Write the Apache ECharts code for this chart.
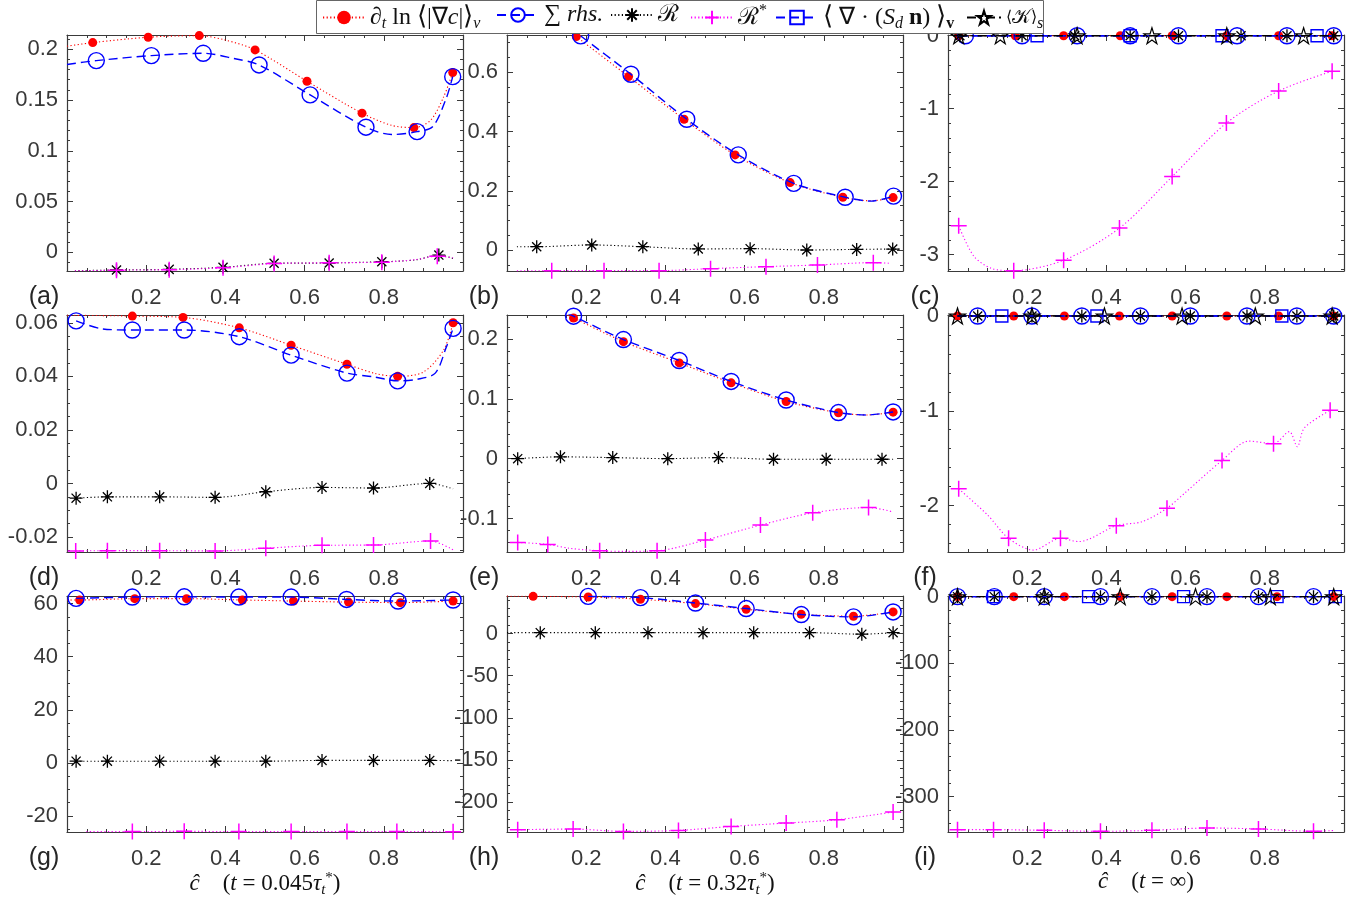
<!DOCTYPE html>
<html><head><meta charset="utf-8">
<script src="https://cdn.jsdelivr.net/npm/echarts@6/dist/echarts.min.js"></script>
<style>html,body{margin:0;padding:0;background:#fff}#c{width:1363px;height:904px}</style>
</head><body><div id="c"></div>
<script>
// ---------------- DATA: [c-hat, value, marker?] ----------------
// panel (a)  t = 0.045 tau
const a_dlog = [[0,0.203,0],[0.065,0.2065,1],[0.205,0.2118,1],[0.334,0.2134,1],[0.40,0.209,0],[0.475,0.1993,1],[0.606,0.1685,1],[0.745,0.137,1],[0.82,0.125,0],[0.876,0.1228,1],[0.918,0.130,0],[0.951,0.153,0],[0.974,0.177,1]];
const a_rhs  = [[0,0.185,0],[0.074,0.1888,1],[0.213,0.1937,1],[0.344,0.196,1],[0.42,0.191,0],[0.485,0.1845,1],[0.614,0.155,1],[0.755,0.1232,1],[0.82,0.116,0],[0.884,0.1188,1],[0.924,0.124,0],[0.958,0.152,0],[0.974,0.173,1]];
const a_R    = [[0.02,-0.0182,0],[0.125,-0.0174,1],[0.258,-0.0168,1],[0.394,-0.0148,1],[0.523,-0.0108,1],[0.662,-0.0105,1],[0.795,-0.0093,1],[0.88,-0.0075,0],[0.939,-0.0027,1],[0.975,-0.006,0]];
const a_Rs   = [[0.02,-0.0183,0],[0.125,-0.0176,1],[0.258,-0.0171,1],[0.394,-0.0152,1],[0.523,-0.0111,1],[0.662,-0.0103,1],[0.795,-0.0097,1],[0.88,-0.0072,0],[0.935,-0.0038,1],[0.975,-0.0055,0]];
// panel (b)  t = 0.32 tau
const b_dlog = [[0.13,0.766,0],[0.175,0.7206,1],[0.307,0.5856,1],[0.447,0.4414,1],[0.576,0.321,1],[0.715,0.2275,1],[0.848,0.178,1],[0.92,0.166,0],[0.975,0.1768,1]];
const b_rhs  = [[0.13,0.78,0],[0.186,0.723,1],[0.313,0.5934,1],[0.454,0.4414,1],[0.584,0.321,1],[0.724,0.225,1],[0.854,0.178,1],[0.92,0.165,0],[0.976,0.182,1]];
const b_R    = [[0.025,0.011,0],[0.075,0.011,1],[0.214,0.0169,1],[0.343,0.011,1],[0.483,0.0034,1],[0.614,0.0045,1],[0.757,0,1],[0.883,0.002,1],[0.974,0.003,1],[0.995,0.003,0]];
const b_Rs   = [[0.025,-0.0705,0],[0.113,-0.0698,1],[0.245,-0.0698,1],[0.384,-0.0698,1],[0.514,-0.063,1],[0.654,-0.0563,1],[0.784,-0.0507,1],[0.925,-0.0428,1],[0.97,-0.045,0]];
// panel (c)  t = inf
const c_dlog = [[0.027,0,1],[0.17,0,1],[0.292,0,1],[0.435,0,1],[0.566,0,1],[0.704,0,1],[0.835,0,1],[0.97,0,1]];
const c_rhs  = [[0.027,0,0],[0.044,0,1],[0.187,0,1],[0.326,0,1],[0.46,0,1],[0.582,0,1],[0.73,0,1],[0.856,0,1],[0.974,0,1]];
const c_R    = [[0.03,0,1],[0.187,0,1],[0.32,0,1],[0.46,0,1],[0.582,0,1],[0.74,0,1],[0.856,0,1],[0.974,0,1]];
const c_Rs   = [[0.027,-2.605,1],[0.065,-3.02,0],[0.11,-3.19,0],[0.166,-3.22,1],[0.292,-3.077,1],[0.433,-2.637,1],[0.566,-1.931,1],[0.703,-1.197,1],[0.835,-0.757,1],[0.97,-0.486,1]];
const c_Sdn  = [[0.027,0,0],[0.225,0,1],[0.46,0,1],[0.692,0,1],[0.932,0,1],[0.975,0,0]];
const c_K    = [[0.027,0,1],[0.132,0,1],[0.326,0,1],[0.515,0,1],[0.704,0,1],[0.898,0,1],[0.975,0,0]];
// panel (d)
const d_dlog = [[0,0.0628,0],[0.08,0.0627,0],[0.165,0.0625,1],[0.293,0.062,1],[0.435,0.0581,1],[0.566,0.0516,1],[0.707,0.0445,1],[0.78,0.041,0],[0.835,0.040,1],[0.9,0.0416,0],[0.951,0.0498,0],[0.975,0.060,1]];
const d_rhs  = [[0.023,0.0607,1],[0.09,0.0577,0],[0.165,0.0573,1],[0.296,0.0573,1],[0.435,0.0548,1],[0.566,0.0479,1],[0.707,0.0412,1],[0.775,0.0398,0],[0.835,0.0383,1],[0.885,0.0389,0],[0.93,0.0412,0],[0.958,0.051,0],[0.975,0.0579,1]];
const d_R    = [[0.023,-0.0055,1],[0.102,-0.005,1],[0.234,-0.005,1],[0.374,-0.0052,1],[0.502,-0.0031,1],[0.644,-0.0015,1],[0.774,-0.0017,1],[0.916,0,1],[0.975,-0.002,0]];
const d_Rs   = [[0.022,-0.0252,1],[0.102,-0.0251,1],[0.234,-0.0251,1],[0.374,-0.0252,1],[0.502,-0.0242,1],[0.644,-0.0231,1],[0.774,-0.023,1],[0.918,-0.0215,1],[0.975,-0.0248,0]];
// panel (e)
const e_dlog = [[0.12,0.25,0],[0.168,0.235,1],[0.294,0.1955,1],[0.435,0.16,1],[0.566,0.1267,1],[0.705,0.0955,1],[0.837,0.0767,1],[0.91,0.073,0],[0.975,0.0777,1]];
const e_rhs  = [[0.12,0.253,0],[0.168,0.238,1],[0.294,0.199,1],[0.435,0.164,1],[0.566,0.129,1],[0.705,0.098,1],[0.837,0.077,1],[0.91,0.073,0],[0.975,0.078,1]];
const e_R    = [[0.027,0,1],[0.135,0.003,1],[0.267,0.0017,1],[0.406,0,1],[0.534,0.0017,1],[0.673,-0.001,1],[0.806,-0.001,1],[0.947,-0.001,1],[0.975,-0.001,0]];
const e_Rs   = [[0.027,-0.14,1],[0.103,-0.1433,1],[0.16,-0.15,0],[0.234,-0.154,1],[0.3,-0.155,0],[0.379,-0.154,1],[0.501,-0.136,1],[0.64,-0.111,1],[0.772,-0.0906,1],[0.913,-0.0817,1],[0.975,-0.089,0]];
// panel (f)
const f_dlog = [[0.024,0,1],[0.166,0,1],[0.294,0,1],[0.433,0,1],[0.566,0,1],[0.704,0,1],[0.835,0,1],[0.974,0,1]];
const f_rhs  = [[0.024,0,0],[0.075,0,1],[0.212,0,1],[0.338,0,1],[0.486,0,1],[0.612,0,1],[0.755,0,1],[0.881,0,1],[0.974,0,1]];
const f_R    = [[0.024,0,0],[0.075,0,1],[0.212,0,1],[0.338,0,1],[0.486,0,1],[0.612,0,1],[0.755,0,1],[0.881,0,1],[0.974,0,1]];
const f_Rs   = [[0.027,-1.823,1],[0.1,-2.1,0],[0.153,-2.346,1],[0.216,-2.47,0],[0.284,-2.346,1],[0.33,-2.38,0],[0.425,-2.212,1],[0.49,-2.17,0],[0.553,-2.028,1],[0.6,-1.86,0],[0.692,-1.524,1],[0.76,-1.32,0],[0.822,-1.347,1],[0.862,-1.22,0],[0.882,-1.38,0],[0.9,-1.18,0],[0.965,-0.995,1]];
const f_Sdn  = [[0.024,0,0],[0.136,0,1],[0.376,0,1],[0.843,0,1],[0.974,0,0]];
const f_K    = [[0.024,0,1],[0.212,0,1],[0.395,0,1],[0.591,0,1],[0.776,0,1],[0.97,0,1]];
// panel (g)
const g_dlog = [[0,61.4,0],[0.032,61.4,1],[0.171,61.9,1],[0.302,61.9,1],[0.443,61.4,1],[0.572,61,1],[0.711,60.6,1],[0.842,60.4,1],[0.975,61,1]];
const g_rhs  = [[0.023,62,1],[0.165,62.5,1],[0.296,62.6,1],[0.434,62.5,1],[0.566,62.5,1],[0.706,61.6,1],[0.836,61,1],[0.975,61.4,1]];
const g_R    = [[0.023,0.6,1],[0.102,0.6,1],[0.234,0.6,1],[0.374,0.6,1],[0.502,0.6,1],[0.644,0.9,1],[0.774,0.9,1],[0.916,0.9,1],[0.975,0.8,0]];
const g_Rs   = [[0.049,-25.95,0],[0.165,-25.95,1],[0.296,-25.85,1],[0.434,-25.95,1],[0.566,-25.95,1],[0.707,-25.95,1],[0.833,-25.95,1],[0.975,-26.0,1]];
// panel (h)
const h_dlog = [[0,44.3,0],[0.066,44.1,1],[0.205,43.3,1],[0.337,40.6,1],[0.476,35.5,1],[0.604,28.8,1],[0.743,22.8,1],[0.875,20.5,1],[0.975,25.6,1]];
const h_rhs  = [[0.205,44.1,1],[0.337,42.6,1],[0.476,36.2,1],[0.604,29.6,1],[0.743,22.5,1],[0.875,19.7,1],[0.975,25.6,1]];
const h_R    = [[0,1,0],[0.084,1,1],[0.223,1,1],[0.356,1,1],[0.495,1,1],[0.623,1,1],[0.764,1,1],[0.896,-0.8,1],[0.975,1,1]];
const h_Rs   = [[0.027,-232.8,1],[0.167,-232,1],[0.294,-234.8,1],[0.433,-233.6,1],[0.566,-228.9,1],[0.705,-224.9,1],[0.833,-221,1],[0.975,-211.8,1]];
// panel (i)
const i_dlog = [[0.024,0,1],[0.166,0,1],[0.294,0,1],[0.435,0,1],[0.566,0,1],[0.704,0,1],[0.831,0,1],[0.974,0,1]];
const i_rhs  = [[0.024,0,1],[0.117,0,1],[0.243,0,1],[0.385,0,1],[0.515,0,1],[0.654,0,1],[0.784,0,1],[0.923,0,1],[0.975,0,0]];
const i_R    = [[0.024,0,1],[0.117,0,1],[0.243,0,1],[0.385,0,1],[0.515,0,1],[0.654,0,1],[0.784,0,1],[0.923,0,1],[0.975,0,0]];
const i_Rs   = [[0.024,-349.8,1],[0.115,-349.8,1],[0.243,-350.8,1],[0.385,-352.3,1],[0.515,-350.8,1],[0.654,-347.3,1],[0.784,-348.7,1],[0.923,-352.3,1],[0.975,-351,0]];
const i_Sdn  = [[0.024,0,0],[0.115,0,1],[0.355,0,1],[0.595,0,1],[0.831,0,1],[0.978,0,1]];
const i_K    = [[0.024,0,1],[0.243,0,1],[0.435,0,1],[0.625,0,1],[0.814,0,1],[0.974,0,1]];

// tick labels
const X_TICKS   = [0.2, 0.4, 0.6, 0.8];
const Y_TICKS_A = [0, 0.05, 0.1, 0.15, 0.2];
const Y_TICKS_B = [0, 0.2, 0.4, 0.6];
const Y_TICKS_C = [-3, -2, -1, 0];
const Y_TICKS_D = [-0.02, 0, 0.02, 0.04, 0.06];
const Y_TICKS_E = [-0.1, 0, 0.1, 0.2];
const Y_TICKS_F = [-2, -1, 0];
const Y_TICKS_G = [-20, 0, 20, 40, 60];
const Y_TICKS_H = [-200, -150, -100, -50, 0];
const Y_TICKS_I = [-300, -200, -100, 0];
const PANEL_LABELS = ['(a)','(b)','(c)','(d)','(e)','(f)','(g)','(h)','(i)'];

// legend names
const N_DLOG = '∂t ln⟨|∇c|⟩v', N_RHS = '∑ rhs.', N_R = 'ℛ', N_RS = 'ℛ*', N_SDN = '⟨∇·(Sd n)⟩v', N_K = '⟨𝒦⟩s';
const LEGEND_NAMES = [N_DLOG, N_RHS, N_R, N_RS, N_SDN, N_K];
const LEGEND_TEXT = {};
LEGEND_TEXT[N_DLOG] = '{m|∂}{si|t}{m| ln }{br|⟨}{m||∇}{i|c}{m||}{br|⟩}{si|v}';
LEGEND_TEXT[N_RHS]  = '{m|∑ }{i|rhs.}';
LEGEND_TEXT[N_R]    = '{m|ℛ}';
LEGEND_TEXT[N_RS]   = '{m|ℛ}{sp|*}';
LEGEND_TEXT[N_SDN]  = '{br|⟨}{m| ∇ · (}{i|S}{si|d}{bd| n}{m|) }{br|⟩}{bsb|v}';
LEGEND_TEXT[N_K]    = '{bs|⟨}{ks|𝒦}{bs|⟩}{si|s}';
const X_TITLES = [
  '{i|ĉ}{m|    (}{i|t}{m| = 0.045}{i|τ}{si|t}{sp|*}{m|)}',
  '{i|ĉ}{m|    (}{i|t}{m| = 0.32}{i|τ}{si|t}{sp|*}{m|)}',
  '{i|ĉ}{m|    (}{i|t}{m| = ∞)}'
];

// ---------------- LAYOUT / STYLE ----------------
const COLS = [67, 507, 948], ROWS = [35, 315, 596], W = 396, HS = [236, 237, 236];
const LEGEND_X = [322, 496, 610, 690, 775, 966];   // left edge of each legend entry icon
const LEGEND_IW = [42, 42, 42, 42, 42, 34];        // icon widths
const LEGEND_BOX = {x:316.5, y:0.5, w:727, h:33};
const PANELS = [
  {ymin:-0.0184, ymax:0.214,  yt:Y_TICKS_A, minor:0.01,  s:{dlog:a_dlog, rhs:a_rhs, R:a_R, Rs:a_Rs}},
  {ymin:-0.071,  ymax:0.726,  yt:Y_TICKS_B, minor:0.05,  s:{dlog:b_dlog, rhs:b_rhs, R:b_R, Rs:b_Rs}},
  {ymin:-3.225,  ymax:0.01,   yt:Y_TICKS_C, minor:0.2,   s:{dlog:c_dlog, rhs:c_rhs, R:c_R, Rs:c_Rs, Sdn:c_Sdn, K:c_K}},
  {ymin:-0.0256, ymax:0.0629, yt:Y_TICKS_D, minor:0.005, s:{dlog:d_dlog, rhs:d_rhs, R:d_R, Rs:d_Rs}},
  {ymin:-0.156,  ymax:0.24,   yt:Y_TICKS_E, minor:0.02,  s:{dlog:e_dlog, rhs:e_rhs, R:e_R, Rs:e_Rs}},
  {ymin:-2.49,   ymax:0.0106, yt:Y_TICKS_F, minor:0.2,   s:{dlog:f_dlog, rhs:f_rhs, R:f_R, Rs:f_Rs, Sdn:f_Sdn, K:f_K}},
  {ymin:-26.1,   ymax:62.9,   yt:Y_TICKS_G, minor:5,     s:{dlog:g_dlog, rhs:g_rhs, R:g_R, Rs:g_Rs}},
  {ymin:-235.5,  ymax:44.5,   yt:Y_TICKS_H, minor:10,    s:{dlog:h_dlog, rhs:h_rhs, R:h_R, Rs:h_Rs}},
  {ymin:-353.3,  ymax:1,      yt:Y_TICKS_I, minor:20,    s:{dlog:i_dlog, rhs:i_rhs, R:i_R, Rs:i_Rs, Sdn:i_Sdn, K:i_K}}
];
const TR = 'rgba(0,0,0,0)';
const STAR = 'path://M0,-1L0.2245,-0.309L0.951,-0.309L0.363,0.118L0.588,0.809L0,0.382L-0.588,0.809L-0.363,0.118L-0.951,-0.309L-0.2245,-0.309Z';
const STYLES = {
  dlog:{name:N_DLOG, color:'#ff0000', dash:[1.2,2.4], lw:1.1, symbol:'circle', size:9, fill:'#ff0000', stroke:'#ff0000', bw:0},
  rhs: {name:N_RHS, color:'#0000ff', dash:[9,5], lw:1.4, symbol:'circle', size:16, fill:TR, stroke:'#0000ff', bw:1.4},
  R:   {name:N_R, color:'#000000', dash:[1.2,2.4], lw:1.1, symbol:'path://M0,-1L0,1M-1,0L1,0M-0.7,-0.7L0.7,0.7M-0.7,0.7L0.7,-0.7', size:13, fill:TR, stroke:'#000000', bw:1.3},
  Rs:  {name:N_RS, color:'#ff00ff', dash:[1.2,2.4], lw:1.1, symbol:'path://M0,-1L0,1M-1,0L1,0', size:16, fill:TR, stroke:'#ff00ff', bw:1.5},
  Sdn: {name:N_SDN, color:'#0000ff', dash:[9,5], lw:1.4, symbol:'rect', size:12, fill:TR, stroke:'#0000ff', bw:1.4},
  K:   {name:N_K, color:'#000000', dash:[9,4,2,4], lw:1.3, symbol:STAR, size:16, fill:TR, stroke:'#000000', bw:1.2}
};
const ORDER = ['dlog','rhs','R','Rs','Sdn','K'];
const AX = '#3a3a3a', LBL = '#383838';
const SANS = 'Liberation Sans', SERIF = 'Liberation Serif';
function mkRich(fs, ss, lh, sh) {
  return {
    m:  {fontFamily:SERIF, fontSize:fs, color:'#111', lineHeight:lh},
    br: {fontFamily:SERIF, fontSize:fs + 2, color:'#111', lineHeight:lh},
    bs: {fontFamily:SERIF, fontSize:fs - 8, color:'#111', lineHeight:lh},
    ks: {fontFamily:SERIF, fontSize:fs - 4, color:'#111', lineHeight:lh},
    i:  {fontFamily:SERIF, fontSize:fs, fontStyle:'italic', color:'#111', lineHeight:lh},
    bd: {fontFamily:SERIF, fontSize:fs, fontWeight:'bold', color:'#111', lineHeight:lh},
    si: {fontFamily:SERIF, fontSize:ss, fontStyle:'italic', color:'#111', lineHeight:lh, padding:[sh,0,0,0]},
    bsb:{fontFamily:SERIF, fontSize:ss, fontWeight:'bold', color:'#111', lineHeight:lh, padding:[sh,0,0,0]},
    sp: {fontFamily:SERIF, fontSize:ss, color:'#111', lineHeight:lh, padding:[0,0,sh,0]}
  };
}
const RICH_L = mkRich(24, 16, 26, 13);
const RICH_T = mkRich(23, 15, 26, 12);

function steps(min, max, st) {
  const out = [];
  const k0 = Math.ceil(min / st - 1e-9), k1 = Math.floor(max / st + 1e-9);
  for (let k = k0; k <= k1; k++) out.push(+(k * st).toFixed(8));
  return out;
}
const fmt = v => String(Math.round(v * 1e6) / 1e6);
const toData = arr => arr.map(p => p[2] ? [p[0], p[1]] : {value:[p[0], p[1]], symbol:'none'});

const grid = [], xAxis = [], yAxis = [], series = [], graphic = [];
PANELS.forEach((P, gi) => {
  const r = Math.floor(gi / 3), c = gi % 3;
  const left = COLS[c], top = ROWS[r], h = HS[r];
  grid.push({left:left, top:top, width:W, height:h, containLabel:false, outerBoundsMode:'none'});
  const xMinor = steps(0, 1, 0.05), yMinor = steps(P.ymin, P.ymax, P.minor);
  const base = {type:'value', gridIndex:gi, splitLine:{show:false}, splitArea:{show:false}};
  const line = on => ({show:on, onZero:false, lineStyle:{color:AX, width:1.2}});
  const tick = (vals, len) => ({show:true, inside:true, length:len, customValues:vals, lineStyle:{color:AX, width:1}});
  const xt = r === 2 ? {name:X_TITLES[c], nameLocation:'middle', nameGap:37,
    nameTextStyle:{fontFamily:SERIF, fontSize:23, color:'#111', rich:RICH_T}} : {};
  xAxis.push(Object.assign({}, base, {position:'bottom', min:0, max:1, axisLine:line(true), axisTick:tick(X_TICKS, 6),
    axisLabel:{show:true, customValues:X_TICKS, formatter:fmt, margin:16, fontSize:22, fontFamily:SANS, color:LBL}}, xt));
  xAxis.push(Object.assign({}, base, {position:'top', min:0, max:1, axisLine:line(true), axisTick:tick(X_TICKS, 6), axisLabel:{show:false}}));
  xAxis.push(Object.assign({}, base, {position:'bottom', min:0, max:1, axisLine:line(false), axisTick:tick(xMinor, 3), axisLabel:{show:false}}));
  xAxis.push(Object.assign({}, base, {position:'top', min:0, max:1, axisLine:line(false), axisTick:tick(xMinor, 3), axisLabel:{show:false}}));
  yAxis.push(Object.assign({}, base, {position:'left', min:P.ymin, max:P.ymax, axisLine:line(true), axisTick:tick(P.yt, 6),
    axisLabel:{show:true, customValues:P.yt, formatter:fmt, margin:9, fontSize:22, fontFamily:SANS, color:LBL}}));
  yAxis.push(Object.assign({}, base, {position:'right', min:P.ymin, max:P.ymax, axisLine:line(true), axisTick:tick(P.yt, 6), axisLabel:{show:false}}));
  yAxis.push(Object.assign({}, base, {position:'left', min:P.ymin, max:P.ymax, axisLine:line(false), axisTick:tick(yMinor, 3), axisLabel:{show:false}}));
  yAxis.push(Object.assign({}, base, {position:'right', min:P.ymin, max:P.ymax, axisLine:line(false), axisTick:tick(yMinor, 3), axisLabel:{show:false}}));

  ORDER.forEach((key, k) => {
    const arr = P.s[key];
    if (!arr) return;
    const st = STYLES[key];
    series.push({
      type:'line', name:st.name, xAxisIndex:gi * 4, yAxisIndex:gi * 4, data:toData(arr),
      smooth:0.3, showSymbol:true, symbol:st.symbol, symbolSize:st.size, z:3 + k,
      lineStyle:{color:st.color, width:st.lw, type:st.dash},
      itemStyle:{color:st.fill, borderColor:st.stroke, borderWidth:st.bw},
      emphasis:{disabled:true}, silent:true, animation:false
    });
  });

  graphic.push({type:'text', x:left - 23, y:top + h + 26, z:10,
    style:{text:PANEL_LABELS[gi], fill:'#262626', font:'25px "Liberation Sans"', align:'center', verticalAlign:'middle', textAlign:'center', textVerticalAlign:'middle'}});
});

// legend frame
graphic.push({type:'rect', z:15, silent:true,
  shape:{x:LEGEND_BOX.x, y:LEGEND_BOX.y, width:LEGEND_BOX.w, height:LEGEND_BOX.h},
  style:{fill:'#ffffff', stroke:'#666666', lineWidth:1}});

const legend = LEGEND_NAMES.map((n, k) => ({
  left:LEGEND_X[k], top:3, orient:'horizontal', itemWidth:LEGEND_IW[k], itemHeight:17, itemGap:0,
  padding:0, z:20, selectedMode:false, data:[n],
  formatter: name => LEGEND_TEXT[name],
  textStyle:{fontFamily:SERIF, fontSize:24, color:'#111', rich:RICH_L}
}));

const chart = echarts.init(document.getElementById('c'), null, {renderer:'canvas'});
chart.setOption({
  animation:false,
  backgroundColor:'#ffffff',
  grid, xAxis, yAxis, series, graphic, legend
});
</script></body></html>
